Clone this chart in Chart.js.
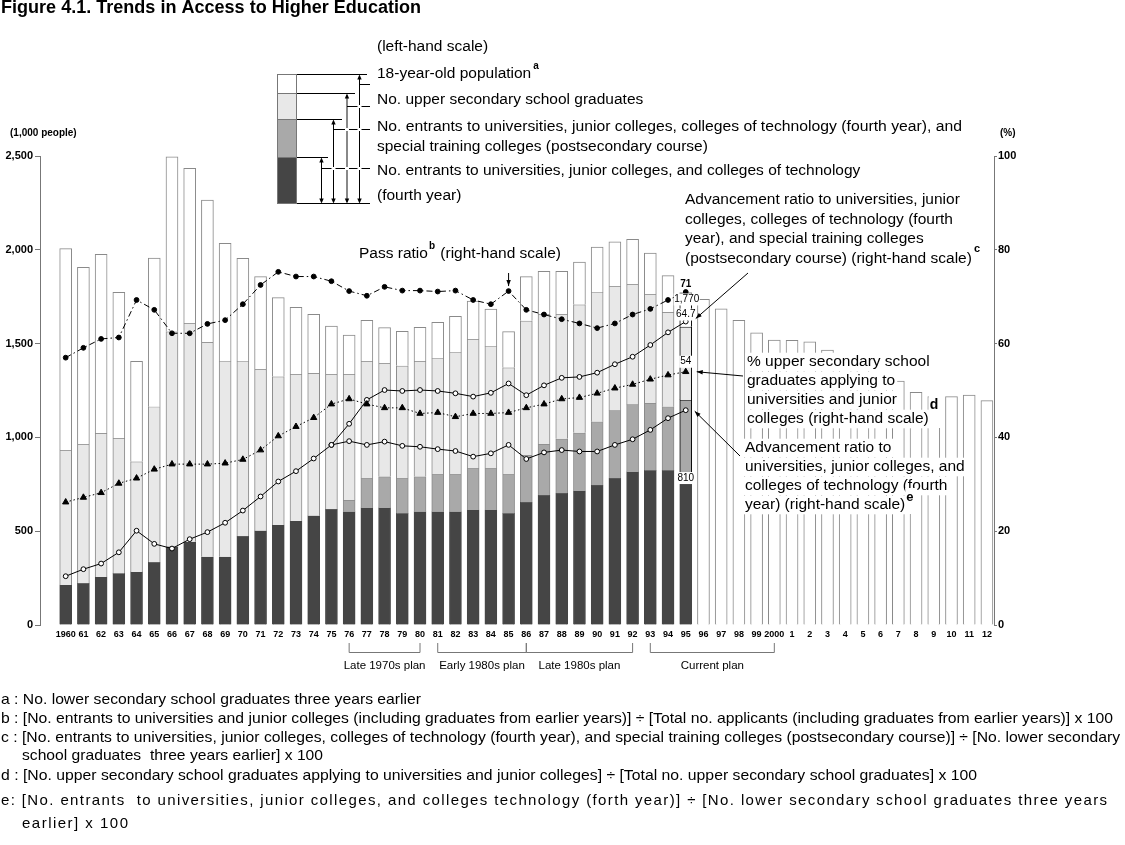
<!DOCTYPE html>
<html>
<head>
<meta charset="utf-8">
<title>Figure 4.1. Trends in Access to Higher Education</title>
<script src="https://cdn.jsdelivr.net/npm/chart.js@4.4.1/dist/chart.umd.min.js"></script>
<style>
html,body{margin:0;padding:0;background:#fff;overflow:hidden;}
canvas{display:block;}
</style>
</head>
<body>
<canvas id="chart" width="1125" height="845" style="width:1125px;height:845px"></canvas>
<script>
// ---------------- data ----------------
const yearLabels = ['1960','61','62','63','64','65','66','67','68','69','70','71','72','73','74','75','76','77','78','79',
  '80','81','82','83','84','85','86','87','88','89','90','91','92','93','94','95','96','97','98','99',
  '2000','1','2','3','4','5','6','7','8','9','10','11','12'];

// left-hand scale (1,000 people)
const population18 = [2006,1907,1976,1773,1405,1956,2496,2434,2265,2034,
  1954,1857,1745,1693,1656,1594,1546,1624,1585,1565,
  1587,1613,1645,1727,1684,1564,1857,1885,1885,1935,
  2015,2043,2056,1983,1862,1770,1736,1686,1624,1558,
  1519,1517,1509,1466,1410,1370,1330,1300,1240,1217,
  1217,1226,1196];
const hsGrads = [933,963,1022,995,871,1164,1564,1608,1507,1405,
  1405,1363,1324,1336,1342,1336,1336,1407,1395,1382,
  1407,1421,1453,1524,1485,1372,1622,1656,1656,1708,
  1773,1807,1816,1764,1667,1590];
const entrantsAll = [null,null,null,null,null,null,null,null,null,null,
  null,null,null,null,null,null,666,782,791,782,
  791,803,803,835,835,803,906,965,993,1025,
  1084,1144,1176,1183,1164,1200];
const entrantsUniv = [213,222,256,275,283,334,418,444,364,364,
  473,503,533,554,583,617,604,624,624,595,
  604,604,604,613,613,595,654,691,702,714,
  745,782,816,824,824,810];

// right-hand scale (%)
const passRatio = [57.0,59.1,61.0,61.3,69.3,67.2,62.2,62.2,64.2,65.0,
  68.4,72.5,75.3,74.3,74.3,73.3,71.2,70.2,72.1,71.3,
  71.3,71.1,71.3,69.3,68.4,71.2,67.2,66.2,65.2,64.3,
  63.3,64.3,66.2,67.4,69.3,71.0];
const applyRatio = [26.2,27.2,28.2,30.2,31.3,33.2,34.3,34.3,34.3,34.5,
  35.3,37.3,40.3,42.3,44.2,47.1,48.2,47.1,46.3,46.3,
  45.1,45.3,44.4,45.1,45.1,45.3,46.3,47.1,48.2,48.5,
  49.4,50.5,51.3,52.4,53.3,54.0];
const advAll = [null,null,null,null,null,null,null,null,null,null,
  null,null,null,null,null,38.4,42.9,48.0,50.1,49.9,
  50.1,49.9,49.4,48.7,49.5,51.5,49.0,51.1,52.7,52.9,
  53.8,55.6,57.2,59.7,62.4,64.7];
const advUniv = [10.4,11.9,13.1,15.5,20.1,17.3,16.3,18.3,19.8,21.8,
  24.4,27.4,30.6,32.8,35.5,38.4,39.2,38.4,39.1,38.2,
  38.0,37.5,37.1,35.9,36.6,38.4,35.4,36.8,37.3,37.0,
  37.0,38.4,39.6,41.6,44.1,45.8];

const leftTicks = [0,500,1000,1500,2000,2500];
const rightTicks = [0,20,40,60,80,100];

const planNames = ['Late 1970s plan','Early 1980s plan','Late 1980s plan','Current plan'];
const planStart = ['76','81','86','93'];
const planEnd = ['80','86','92','2000'];

const lastYear = '95';

// ---------------- chart ----------------
const FONT = '"Liberation Sans", Arial, Helvetica, sans-serif';
Chart.defaults.font.family = FONT;
Chart.defaults.color = '#000';

const C_DARK = '#454545', C_MID = '#a9a9a9', C_LIGHT = '#e8e8e8', C_WHITE = '#ffffff', C_EDGE = '#8a8a8a';
const idx = yearLabels.map((_, i) => i);
const iLast = yearLabels.indexOf(lastYear);
const val = (a, i) => (a[i] === undefined ? null : a[i]);

function segment(lowFn, highArr) {
  return idx.filter(i => val(highArr, i) !== null).map(i => ({ x: i, y: [lowFn(i), highArr[i]] }));
}
const dataWhite = segment(i => (val(hsGrads, i) === null ? 0 : hsGrads[i]), population18);
const dataLight = segment(i => (val(entrantsAll, i) !== null ? entrantsAll[i] : entrantsUniv[i]), hsGrads);
const dataMid = segment(i => entrantsUniv[i], entrantsAll);
const dataDark = segment(() => 0, entrantsUniv);
const pts = arr => idx.filter(i => val(arr, i) !== null).map(i => ({ x: i, y: arr[i] }));

const edge = c => (c.raw && c.raw.x === iLast ? '#000' : C_EDGE);
const barCommon = { yAxisID: 'y', grouped: false, barThickness: 12, borderWidth: 1, order: 5 };
const lineCommon = { type: 'line', yAxisID: 'y2', borderColor: '#000', borderWidth: 1, tension: 0, order: 1,
  pointBorderColor: '#000', pointBorderWidth: 1 };

function drawText(ctx, str, x, y, o = {}) {
  const size = o.size || 15.5, weight = o.weight || 'normal';
  ctx.save();
  ctx.font = `${weight} ${size}px ${FONT}`;
  ctx.textBaseline = 'middle';
  ctx.textAlign = 'left';
  if ('letterSpacing' in ctx) ctx.letterSpacing = '0px';
  let w = ctx.measureText(str).width;
  let sx = 1;
  if (o.width) {
    if (o.spacing && 'letterSpacing' in ctx) {
      ctx.letterSpacing = ((o.width - w) / Math.max(1, str.length - 1)).toFixed(3) + 'px';
    } else { sx = o.width / w; }
    w = o.width;
  }
  const x0 = o.align === 'center' ? x - w / 2 : (o.align === 'right' ? x - w : x);
  if (o.bg) {
    const p = o.pad === undefined ? 2 : o.pad;
    ctx.fillStyle = '#fff';
    ctx.fillRect(x0 - p, y - size * 0.6, w + 2 * p, size * 1.2);
  }
  ctx.fillStyle = o.color || '#000';
  ctx.translate(x0, y);
  ctx.scale(sx, 1);
  ctx.fillText(str, 0, 0);
  ctx.restore();
  return x0 + w;
}
function line(ctx, x1, y1, x2, y2, color, lw) {
  ctx.save();
  ctx.strokeStyle = color || '#000';
  ctx.lineWidth = lw || 1;
  ctx.beginPath(); ctx.moveTo(x1, y1); ctx.lineTo(x2, y2); ctx.stroke();
  ctx.restore();
}
function head(ctx, xFrom, yFrom, xTo, yTo, len, half, color) {
  const a = Math.atan2(yTo - yFrom, xTo - xFrom);
  ctx.save();
  ctx.fillStyle = color || '#000';
  ctx.beginPath();
  ctx.moveTo(xTo, yTo);
  ctx.lineTo(xTo - len * Math.cos(a) + half * Math.sin(a), yTo - len * Math.sin(a) - half * Math.cos(a));
  ctx.lineTo(xTo - len * Math.cos(a) - half * Math.sin(a), yTo - len * Math.sin(a) + half * Math.cos(a));
  ctx.closePath(); ctx.fill();
  ctx.restore();
}
function arrow(ctx, x1, y1, x2, y2) {
  line(ctx, x1, y1, x2, y2);
  head(ctx, x1, y1, x2, y2, 6, 2.2);
}
function dblArrow(ctx, x, y1, y2, color, lw) {
  line(ctx, x, y1 + 2, x, y2 - 2, color, lw);
  head(ctx, x, y2, x, y1, 5, 2.2);
  head(ctx, x, y1, x, y2, 5, 2.2);
}

const annotations = {
  id: 'annotations',
  afterDraw(chart) {
    const ctx = chart.ctx;
    const X = i => chart.scales.x.getPixelForValue(i);
    const YL = v => chart.scales.y.getPixelForValue(v);
    const YR = v => chart.scales.y2.getPixelForValue(v);

    // title
    drawText(ctx, 'Figure 4.1. Trends in Access to Higher Education', 1, 8, { size: 18, weight: 'bold', width: 420 });
    // axis units
    drawText(ctx, '(1,000 people)', 10, 133, { size: 10, weight: 'bold' });
    drawText(ctx, '(%)', 1000, 133, { size: 10, weight: 'bold' });

    // ---- legend key ----
    const bands = [[74.5, 93.5, C_WHITE], [93.5, 119.5, C_LIGHT], [119.5, 157.5, C_MID], [157.5, 203.5, C_DARK]];
    ctx.save();
    bands.forEach(b => {
      ctx.fillStyle = b[2]; ctx.fillRect(277.5, b[0], 19, b[1] - b[0]);
      ctx.strokeStyle = '#777'; ctx.lineWidth = 1; ctx.strokeRect(277.5, b[0], 19, b[1] - b[0]);
    });
    ctx.restore();
    line(ctx, 297, 74.5, 367, 74.5);
    line(ctx, 297, 93.5, 355, 93.5);
    line(ctx, 297, 119.5, 342, 119.5);
    line(ctx, 297, 157.5, 328, 157.5);
    line(ctx, 297, 203.5, 370, 203.5);
    dblArrow(ctx, 359.5, 74.5, 203.5);
    dblArrow(ctx, 347, 93.5, 203.5, '#888', 2);
    dblArrow(ctx, 333.5, 119.5, 203.5);
    dblArrow(ctx, 321.5, 157.5, 203.5);
    const conns = [[359.5, 84.5], [347, 106.5], [333.5, 129.5], [321.5, 168.5]];
    const verts = [359.5, 347, 333.5, 321.5];
    conns.forEach(c => {
      line(ctx, c[0], c[1], 370, c[1]);
      verts.filter(v => v > c[0]).forEach(v => { ctx.fillStyle = '#fff'; ctx.fillRect(v - 2, c[1] - 1.5, 4, 3); });
    });
    drawText(ctx, '(left-hand scale)', 377, 47);
    let e = drawText(ctx, '18-year-old population', 377, 74);
    drawText(ctx, 'a', e + 2, 66, { size: 10, weight: 'bold' });
    drawText(ctx, 'No. upper secondary school graduates', 377, 100);
    drawText(ctx, 'No. entrants to universities, junior colleges, colleges of technology (fourth year), and', 377, 127, { width: 585 });
    drawText(ctx, 'special training colleges (postsecondary course)', 377, 147);
    drawText(ctx, 'No. entrants to universities, junior colleges, and colleges of technology', 377, 171);
    drawText(ctx, '(fourth year)', 377, 196);

    // ---- pass ratio label ----
    e = drawText(ctx, 'Pass ratio', 359, 254);
    e = drawText(ctx, 'b', e + 1, 246, { size: 10, weight: 'bold' });
    drawText(ctx, ' (right-hand scale)', e + 1, 254);
    const i85 = yearLabels.indexOf('85');
    arrow(ctx, X(i85), 273, X(i85), YR(passRatio[i85]) - 5);

    // ---- labels at the last observed year ----
    const xl = X(iLast);
    drawText(ctx, String(Math.round(passRatio[iLast])), xl, YR(passRatio[iLast]) - 8, { size: 10, weight: 'bold', align: 'center' });
    drawText(ctx, population18[iLast].toLocaleString('en-US'), xl + 1, YL(population18[iLast]) + 6.5, { size: 10, align: 'center', bg: true, pad: 0.5 });
    drawText(ctx, advAll[iLast].toFixed(1), xl, YR(advAll[iLast]) - 7, { size: 10, align: 'center', bg: true, pad: 0.5 });
    drawText(ctx, String(Math.round(applyRatio[iLast])), xl, YR(applyRatio[iLast]) - 10, { size: 10, align: 'center', bg: true, pad: 1 });
    drawText(ctx, String(entrantsUniv[iLast]), xl, YL(entrantsUniv[iLast]) + 5, { size: 10, align: 'center', bg: true, pad: 1 });

    // ---- annotation c ----
    const cLines = ['Advancement ratio to universities, junior', 'colleges, colleges of technology (fourth',
      'year), and special training colleges', '(postsecondary course) (right-hand scale)'];
    cLines.forEach((t, k) => { e = drawText(ctx, t, 685, 200 + k * 19.5, { bg: true, pad: 1 }); });
    drawText(ctx, 'c', e + 2, 249, { size: 11, weight: 'bold' });
    arrow(ctx, 748, 273, xl + 10, YR(advAll[iLast]) - 3);

    // ---- annotation d ----
    const dLines = ['% upper secondary school', 'graduates applying to', 'universities and junior', 'colleges (right-hand scale)'];
    dLines.forEach((t, k) => { e = drawText(ctx, t, 747, 362 + k * 19, { bg: true, pad: 2 }); });
    ctx.save(); ctx.fillStyle = '#fff'; ctx.fillRect(e, 396, 12, 32); ctx.restore();
    drawText(ctx, 'd', e + 1, 405, { size: 14, weight: 'bold' });
    arrow(ctx, 743, 376, xl + 11, YR(applyRatio[iLast]));

    // ---- annotation e ----
    const eLines = ['Advancement ratio to', 'universities, junior colleges, and', 'colleges of technology (fourth', 'year) (right-hand scale)'];
    eLines.forEach((t, k) => { e = drawText(ctx, t, 745, 448 + k * 19, { bg: true, pad: 2 }); });
    ctx.save(); ctx.fillStyle = '#fff'; ctx.fillRect(e, 488, 12, 26); ctx.restore();
    drawText(ctx, 'e', e + 1, 497, { size: 13, weight: 'bold' });
    arrow(ctx, 740, 456, xl + 9, YR(advUniv[iLast]) + 1);

    // ---- plan brackets ----
    planNames.forEach((nm, k) => {
      const a = X(yearLabels.indexOf(planStart[k])), b = X(yearLabels.indexOf(planEnd[k]));
      line(ctx, a, 643, a, 652.5, '#777');
      line(ctx, b, 643, b, 652.5, '#777');
      line(ctx, a, 652.5, b, 652.5, '#777');
      drawText(ctx, nm, (a + b) / 2, 666, { size: 11.5, align: 'center' });
    });

    // ---- footnotes ----
    const fs = 15;
    drawText(ctx, 'a : No. lower secondary school graduates three years earlier', 1, 700, { size: fs, width: 420 });
    drawText(ctx, 'b : [No. entrants to universities and junior colleges (including graduates from earlier years)] \u00f7 [Total no. applicants (including graduates from earlier years)] x 100', 1, 719, { size: fs, width: 1112 });
    drawText(ctx, 'c : [No. entrants to universities, junior colleges, colleges of technology (fourth year), and special training colleges (postsecondary course)] \u00f7 [No. lower secondary', 1, 737.5, { size: fs, width: 1119 });
    drawText(ctx, 'school graduates  three years earlier] x 100', 22, 756, { size: fs, width: 301 });
    drawText(ctx, 'd : [No. upper secondary school graduates applying to universities and junior colleges] \u00f7 [Total no. upper secondary school graduates] x 100', 1, 776, { size: fs, width: 976 });
    drawText(ctx, 'e: [No. entrants  to universities, junior colleges, and colleges technology (forth year)] \u00f7 [No. lower secondary school graduates three years', 1, 801, { size: fs, width: 1106, spacing: true });
    drawText(ctx, 'earlier] x 100', 22, 824, { size: fs, width: 106, spacing: true });
  }
};

new Chart(document.getElementById('chart'), {
  type: 'bar',
  data: {
    datasets: [
      Object.assign({}, lineCommon, { label: 'Pass ratio', data: pts(passRatio), borderDash: [6, 3, 1.5, 3],
        pointStyle: 'circle', pointRadius: 2.4, pointBackgroundColor: '#000' }),
      Object.assign({}, lineCommon, { label: '% applying', data: pts(applyRatio), borderDash: [1.5, 2.5],
        pointStyle: 'triangle', pointRadius: 3.6, pointBackgroundColor: '#000' }),
      Object.assign({}, lineCommon, { label: 'Advancement ratio incl. special training', data: pts(advAll),
        pointStyle: 'circle', pointRadius: 2.4, pointBackgroundColor: '#fff' }),
      Object.assign({}, lineCommon, { label: 'Advancement ratio', data: pts(advUniv),
        pointStyle: 'circle', pointRadius: 2.4, pointBackgroundColor: '#fff' }),
      Object.assign({}, barCommon, { label: '18-year-old population', data: dataWhite, backgroundColor: C_WHITE, borderColor: edge }),
      Object.assign({}, barCommon, { label: 'Upper secondary graduates', data: dataLight, backgroundColor: C_LIGHT, borderColor: edge }),
      Object.assign({}, barCommon, { label: 'Entrants incl. special training', data: dataMid, backgroundColor: C_MID, borderColor: edge }),
      Object.assign({}, barCommon, { label: 'Entrants', data: dataDark, backgroundColor: C_DARK, borderColor: C_DARK })
    ]
  },
  options: {
    responsive: false,
    animation: false,
    devicePixelRatio: 1,
    layout: { padding: { top: 156, bottom: 200, left: 0, right: 0 } },
    plugins: { legend: { display: false }, tooltip: { enabled: false }, title: { display: false } },
    scales: {
      x: {
        type: 'linear', min: -1.45, max: 52.4, offset: false,
        grid: { display: false, drawTicks: false }, border: { display: false },
        afterBuildTicks: s => { s.ticks = idx.map(i => ({ value: i })); },
        afterFit: s => { s.height = 20; },
        ticks: { autoSkip: false, maxRotation: 0, minRotation: 0, padding: 4,
          font: { size: 9, weight: 'bold' }, color: '#000',
          callback: v => yearLabels[v] }
      },
      y: {
        position: 'left', min: 0, max: 2500,
        afterBuildTicks: s => { s.ticks = leftTicks.map(v => ({ value: v })); },
        afterFit: s => { s.width = 40; },
        grid: { drawOnChartArea: false, drawTicks: true, tickLength: 5, color: '#777' },
        border: { display: true, color: '#777' },
        ticks: { padding: 2, font: { size: 11, weight: 'bold' }, color: '#000',
          callback: v => v.toLocaleString('en-US') }
      },
      y2: {
        position: 'right', min: 0, max: 100,
        afterBuildTicks: s => { s.ticks = rightTicks.map(v => ({ value: v })); },
        afterFit: s => { s.width = 131; },
        grid: { drawOnChartArea: false, drawTicks: true, tickLength: 3, color: '#777' },
        border: { display: true, color: '#777' },
        ticks: { padding: 1, font: { size: 11, weight: 'bold' }, color: '#000' }
      }
    }
  },
  plugins: [annotations]
});
</script>
</body>
</html>
